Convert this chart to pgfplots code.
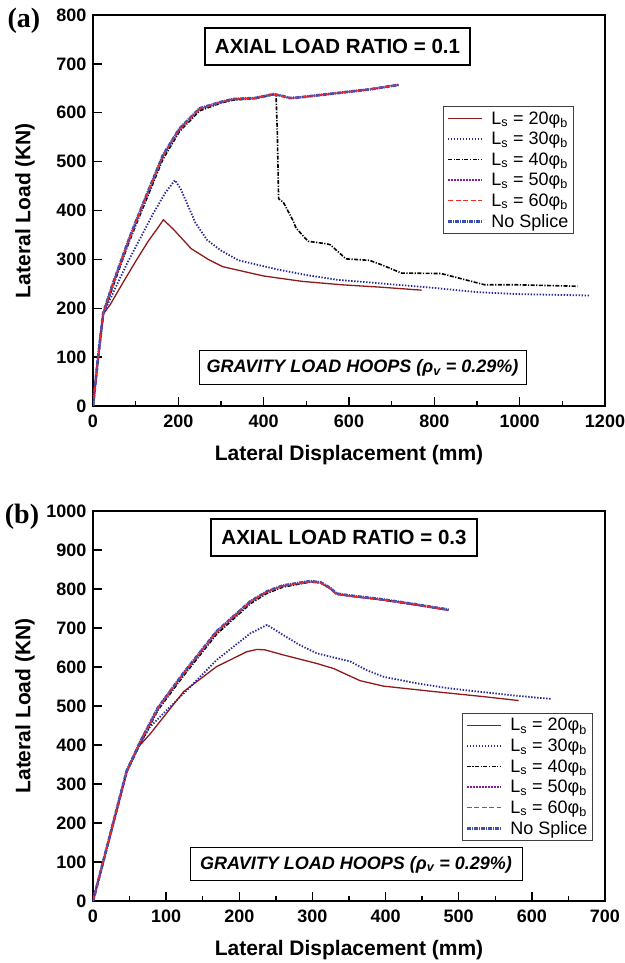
\documentclass[border=0pt]{standalone}
\usepackage{fontspec}
\setmainfont{Liberation Sans}
\newfontfamily\serifbf{Liberation Serif}
\usepackage{pgfplots}
\pgfplotsset{compat=1.18}

\definecolor{cTwenty}{HTML}{8E1B1B}
\definecolor{cThirty}{HTML}{2A2A96}
\definecolor{cFifty}{HTML}{8B1A9B}
\definecolor{cSixty}{HTML}{F02828}
\definecolor{cNone}{HTML}{3B50B4}

\newcommand{\lsp}[1]{L\textsubscript{s} = #1φ\textsubscript{b}\hspace{6pt}}

\pgfplotsset{
  ls20/.style={cTwenty, line width=1.3pt},
  ls30/.style={cThirty, line width=1.8pt, dash pattern=on 1.4pt off 1.6pt},
  ls40/.style={black, line width=1.6pt, dash pattern=on 4pt off 1.5pt on 1.2pt off 1.5pt},
  ls50/.style={cFifty, line width=1.8pt, dash pattern=on 2pt off 1pt},
  ls60/.style={cSixty, line width=1.3pt, dash pattern=on 5pt off 2.5pt},
  nosp/.style={cNone, line width=2.8pt, dash pattern=on 4pt off 1pt on 1pt off 1pt},
  panel/.style={
    scale only axis, width=512pt, anchor=south west,
    axis line style={line width=2pt},
    tick style={line width=1.3pt, black},
    tick align=inside, xtick pos=bottom, ytick pos=left,
    major tick length=9pt, minor tick length=5pt,
    minor x tick num=1,
    /pgf/number format/assume math mode=true,
    /pgf/number format/1000 sep={},
    ticklabel style={font=\fontsize{18}{18}\selectfont\bfseries},
    xticklabel style={yshift=-5pt},
    yticklabel style={xshift=-3pt},
    label style={font=\fontsize{21}{21}\selectfont\bfseries},
    xlabel={Lateral Displacement (mm)},
    ylabel={Lateral Load (KN)},
    xlabel style={at={(axis description cs:0.5,-0.125)}, anchor=center},
    ylabel style={at={(axis description cs:-0.133,0.5)}, anchor=center},
    legend cell align=left,
    legend style={draw=black!75, line width=0.8pt, anchor=north west,
      font=\fontsize{18}{19}\selectfont, row sep=2.5pt, inner sep=3pt,
      /tikz/every odd column/.append style={column sep=6pt}},
    legend image code/.code={\draw[##1] (0pt,0pt) -- (34pt,0pt);},
  },
}

\begin{document}
\begin{tikzpicture}
\path[use as bounding box] (0,0) rectangle (624pt,963pt);

% ---- panel (a)
\begin{axis}[panel, at={(93pt,557pt)}, height=391pt,
  xmin=0, xmax=1200, ymin=0, ymax=800,
  xtick={0,200,...,1200}, ytick={0,100,...,800},
  legend style={at={(0.684,0.767)}}]
\addlegendimage{ls20}\addlegendentry{\lsp{20}}
\addlegendimage{ls30}\addlegendentry{\lsp{30}}
\addlegendimage{ls40}\addlegendentry{\lsp{40}}
\addlegendimage{ls50}\addlegendentry{\lsp{50}}
\addlegendimage{ls60}\addlegendentry{\lsp{60}}
\addlegendimage{nosp}\addlegendentry{No Splice\hspace{6pt}}
% L = 20 db
\addplot[ls20, forget plot] coordinates {
 (0,0) (12,100) (24,188) (40,207) (70,252) (100,296) (130,338) (150,362)
 (165,381) (188,362) (230,322) (270,300) (304,285) (400,266) (490,255)
 (583,248) (676,243) (770,237)};
% L = 30 db
\addplot[ls30, forget plot] coordinates {
 (0,0) (12,100) (24,188) (50,237) (80,292) (110,342) (140,392) (170,437)
 (192,462) (205,445) (225,405) (240,375) (267,340) (300,318) (341,298)
 (434,279) (500,268) (574,258) (713,248) (806,241) (900,233) (993,229)
 (1165,226)};
% L = 40 db
\addplot[ls40, forget plot] coordinates {
 (0,0) (12,100) (24,188) (45,240) (80,325) (94,356) (123,418) (164,505)
 (203,562) (250,604) (300,620) (329,626) (380,629) (423,637) (429,637)
 (432,560) (435,424) (446,417) (469,379) (476,364) (504,337) (546,332)
 (556,330) (593,301) (648,298) (676,289) (723,272) (816,271) (834,267)
 (918,248) (993,248) (1135,245)};
% L = 50 db
\addplot[ls50, forget plot] coordinates {
 (0,0) (12,100) (24,190) (45,245) (80,330) (94,362) (123,425) (164,512)
 (203,567) (250,608) (300,622) (329,628) (380,630) (423,638) (445,634)
 (462,630) (480,631) (550,638) (650,648) (716,657)};
% no splice
\addplot[nosp, forget plot] coordinates {
 (0,0) (12,100) (24,190) (45,246) (80,331) (94,363) (123,426) (164,513)
 (203,568) (250,609) (300,622) (329,628) (380,630) (423,638) (445,634)
 (462,630) (480,631) (550,638) (650,648) (716,657)};
% L = 60 db
\addplot[ls60, forget plot] coordinates {
 (0,0) (12,100) (24,190) (45,245) (80,330) (94,362) (123,425) (164,512)
 (203,567) (250,608) (300,622) (329,628) (380,630) (423,638) (445,634)
 (462,630) (480,631) (550,638) (650,648) (716,657)};
\end{axis}

% ---- panel (b)
\begin{axis}[panel, at={(93pt,62pt)}, height=390pt,
  xmin=0, xmax=700, ymin=0, ymax=1000,
  xtick={0,100,...,700}, ytick={0,100,...,1000},
  legend style={at={(0.721,0.482)}}]
\addlegendimage{ls20}\addlegendentry{\lsp{20}}
\addlegendimage{ls30}\addlegendentry{\lsp{30}}
\addlegendimage{ls40}\addlegendentry{\lsp{40}}
\addlegendimage{ls50}\addlegendentry{\lsp{50}}
\addlegendimage{ls60}\addlegendentry{\lsp{60}}
\addlegendimage{nosp}\addlegendentry{No Splice\hspace{6pt}}
\addplot[ls20, forget plot] coordinates {
 (0,0) (46,332) (62,395) (78,428) (124,537) (169,601) (210,639) (224,645)
 (235,644) (260,631) (306,609) (329,596) (365,565) (397,551) (466,537)
 (534,524) (582,514)};
\addplot[ls30, forget plot] coordinates {
 (0,0) (46,332) (64,402) (78,447) (124,532) (169,618) (215,686) (238,708)
 (260,682) (283,656) (306,635) (352,614) (374,592) (397,575) (443,558)
 (488,545) (570,528) (627,518)};
\addplot[ls40, forget plot] coordinates {
 (0,0) (46,330) (64,401) (89,490) (124,578) (169,684) (215,762) (238,789)
 (260,805) (297,818) (311,816) (324,802) (333,787) (352,782) (397,772)
 (443,759) (486,746)};
\addplot[ls50, forget plot] coordinates {
 (0,0) (46,332) (64,405) (89,495) (124,584) (169,690) (215,767) (238,793)
 (260,808) (297,819) (311,816) (324,802) (333,787) (352,782) (397,772)
 (443,759) (486,746)};
\addplot[nosp, forget plot] coordinates {
 (0,0) (46,333) (64,406) (89,496) (124,585) (169,691) (215,768) (238,794)
 (260,809) (297,820) (311,817) (324,803) (333,788) (352,783) (397,773)
 (443,760) (486,747)};
\addplot[ls60, forget plot] coordinates {
 (0,0) (46,332) (64,405) (89,495) (124,584) (169,690) (215,767) (238,793)
 (260,808) (297,819) (311,816) (324,802) (333,787) (352,782) (397,772)
 (443,759) (486,746)};
\end{axis}

% panel letters and boxed notes
\node[font=\serifbf\fontsize{28}{28}\selectfont\bfseries] at (24pt,942pt) {(a)};
\node[font=\serifbf\fontsize{28}{28}\selectfont\bfseries] at (22pt,446pt) {(b)};
\tikzset{tbox/.style={draw, line width=1.2pt, fill=white, inner sep=0pt,
  font=\fontsize{20.5}{20.5}\selectfont\bfseries},
  gbox/.style={draw, line width=1pt, fill=white, inner sep=0pt,
  font=\fontsize{18}{18}\selectfont\bfseries\itshape}}
\node[tbox, minimum width=265pt, minimum height=37pt] at (337.5pt,916.5pt) {AXIAL LOAD RATIO = 0.1};
\node[tbox, minimum width=266pt, minimum height=37pt] at (344pt,425.5pt) {AXIAL LOAD RATIO = 0.3};
\node[gbox, minimum width=327pt, minimum height=34pt] at (362.5pt,595pt) {GRAVITY LOAD HOOPS (ρ\textsubscript{v} = 0.29\%)};
\node[gbox, minimum width=332pt, minimum height=33pt] at (356pt,98.5pt) {GRAVITY LOAD HOOPS (ρ\textsubscript{v} = 0.29\%)};
\end{tikzpicture}
\end{document}
